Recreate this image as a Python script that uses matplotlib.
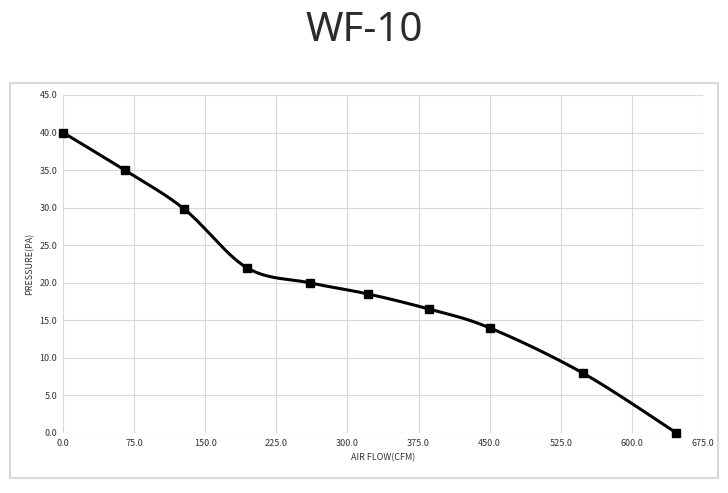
import numpy as np
import matplotlib
matplotlib.use("Agg")
import matplotlib.pyplot as plt
from matplotlib.patches import Rectangle

air_flow = [0, 65, 128, 194, 260, 322, 386, 450, 548, 647]
pressure = [40.0, 35.0, 29.8, 22.0, 20.0, 18.5, 16.5, 14.0, 8.0, 0.0]
x_ticks = [0, 75, 150, 225, 300, 375, 450, 525, 600, 675]
y_ticks = [0, 5, 10, 15, 20, 25, 30, 35, 40, 45]

def catmull_rom(xs, ys, n=30):
    P = np.column_stack([xs, ys]).astype(float)
    P = np.vstack([P[0], P, P[-1]])
    out = []
    for i in range(1, len(P) - 2):
        p0, p1, p2, p3 = P[i - 1], P[i], P[i + 1], P[i + 2]
        t = np.linspace(0, 1, n)[:, None]
        c = 0.5 * ((2 * p1) + (-p0 + p2) * t + (2 * p0 - 5 * p1 + 4 * p2 - p3) * t ** 2
                   + (-p0 + 3 * p1 - 3 * p2 + p3) * t ** 3)
        out.append(c if i == 1 else c[1:])
    c = np.vstack(out)
    return c[:, 0], c[:, 1]

plt.rcParams['font.family'] = ['Noto Sans CJK KR', 'DejaVu Sans']

W, H = 728, 493
fig = plt.figure(figsize=(W / 100, H / 100), dpi=100)
fig.patch.set_facecolor('white')

fig.patches.append(Rectangle((10 / W, 1 - 478 / H), 708 / W, 395 / H,
                             transform=fig.transFigure, fill=False,
                             edgecolor='#d9d9d9', linewidth=1.5))

fig.text(364 / W, 1 - 31 / H, 'WF-10', ha='center', va='center',
         fontsize=29, color='#2b2b2b', family=['Noto Sans', 'DejaVu Sans'])

ax = fig.add_axes([63 / W, 1 - 433 / H, 640 / W, 338 / H])
sx, sy = catmull_rom(air_flow, pressure)
ax.plot(sx, sy, color='black', linewidth=2.2, zorder=3)
ax.plot(air_flow, pressure, linestyle='none', marker='s', markersize=5.5,
        color='black', zorder=4, clip_on=False)

ax.set_xlim(0, 675)
ax.set_ylim(0, 45)
ax.set_xticks(x_ticks)
ax.set_yticks(y_ticks)
ax.set_xticklabels([f'{v:.1f}' for v in x_ticks])
ax.set_yticklabels([f'{v:.1f}' for v in y_ticks])
ax.grid(True, color='#d9d9d9', linewidth=0.8)
ax.set_axisbelow(True)
for s in ax.spines.values():
    s.set_visible(False)
ax.tick_params(length=0, labelsize=6.5, colors='#333333', pad=4)
ax.set_xlabel('AIR FLOW(CFM)', fontsize=6.5, color='#333333', labelpad=4)
ax.set_ylabel('PRESSURE(PA)', fontsize=6.5, color='#333333', labelpad=4)

fig.savefig('out.png', dpi=100, facecolor='white')
